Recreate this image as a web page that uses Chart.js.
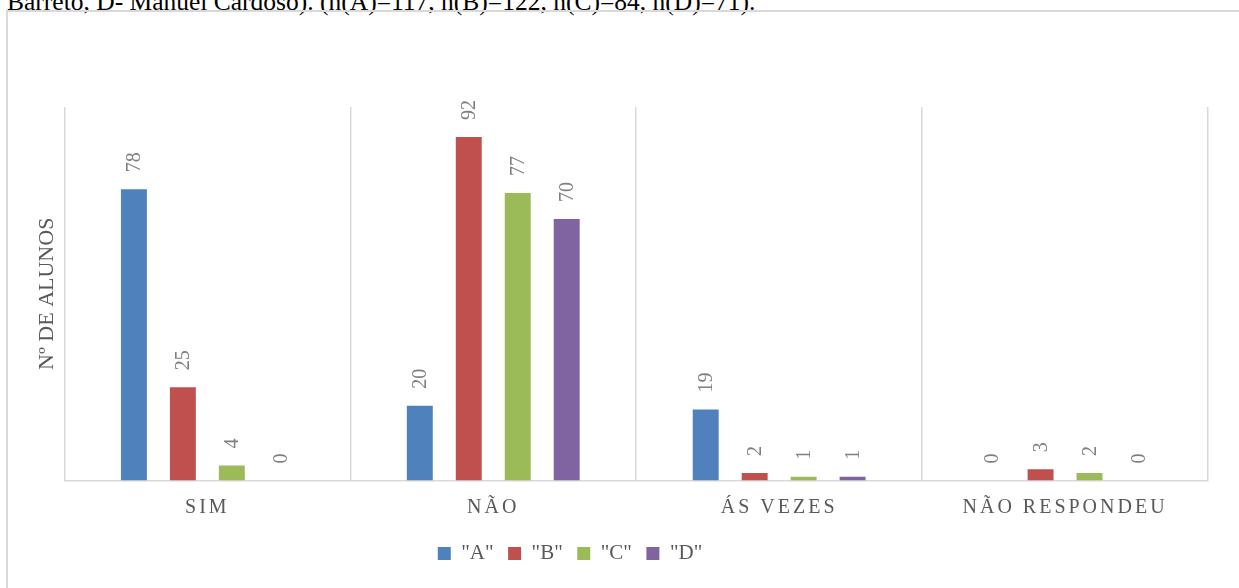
<!DOCTYPE html>
<html>
<head>
<meta charset="utf-8">
<script src="https://cdn.jsdelivr.net/npm/chart.js@4/dist/chart.umd.min.js"></script>
<style>
  body { margin: 0; width: 1239px; height: 588px; overflow: hidden; background: #fff; position: relative; }
  #caption { position: absolute; left: 7px; top: -11px; font: 25.5px "Liberation Serif", serif; line-height: 26px; color: #000; white-space: nowrap; }
  #box { position: absolute; left: 6px; top: 10px; width: 1250px; height: 600px; border: 2px solid #d9d9d9; box-sizing: border-box; }
  #chart { position: absolute; left: 0; top: 0; }
</style>
</head>
<body>
<div id="caption">Barreto, D- Manuel Cardoso). (n(A)=117, n(B)=122, n(C)=84, n(D)=71).</div>
<div id="box"></div>
<canvas id="chart" width="1239" height="588"></canvas>
<script>
const categories = ["SIM", "NÃO", "ÁS VEZES", "NÃO RESPONDEU"];
const seriesNames = ['"A"', '"B"', '"C"', '"D"'];
const valuesA = [78, 20, 19, 0];
const valuesB = [25, 92, 2, 3];
const valuesC = [4, 77, 1, 2];
const valuesD = [0, 70, 1, 0];
const seriesColors = ["#4f81bd", "#c0504d", "#9bbb59", "#8064a2"];

// category axis with letter-spaced labels
class SpacedCategoryScale extends Chart.CategoryScale {
  drawLabels(chartArea) {
    this.ctx.save();
    this.ctx.letterSpacing = "3px";
    super.drawLabels(chartArea);
    this.ctx.restore();
  }
}
SpacedCategoryScale.id = "spacedCategory";
SpacedCategoryScale.defaults = Chart.CategoryScale.defaults;
Chart.register(SpacedCategoryScale);

// rotated value labels above each bar
const valueLabels = {
  id: "valueLabels",
  afterDatasetsDraw(chart) {
    const ctx = chart.ctx;
    ctx.save();
    ctx.letterSpacing = "0px";
    ctx.font = '20px "Liberation Serif"';
    ctx.fillStyle = "#7f7f7f";
    ctx.textAlign = "left";
    ctx.textBaseline = "middle";
    chart.data.datasets.forEach((ds, i) => {
      chart.getDatasetMeta(i).data.forEach((bar, j) => {
        ctx.save();
        ctx.translate(bar.x + 1, bar.y - 17);
        ctx.rotate(-Math.PI / 2);
        ctx.fillText(String(ds.data[j]), 0, 0);
        ctx.restore();
      });
    });
    ctx.restore();
  }
};

// legend sits a bit left of the plot centre, as in the original
const legendShift = {
  id: "legendShift",
  afterLayout(chart) {
    chart.legend.left -= 49;
    chart.legend.right -= 49;
  }
};

const allValues = [valuesA, valuesB, valuesC, valuesD];

const chart = new Chart(document.getElementById("chart"), {
  type: "bar",
  data: {
    labels: categories,
    datasets: seriesNames.map((name, i) => ({
      label: name,
      data: allValues[i],
      backgroundColor: seriesColors[i],
      borderWidth: 0,
      categoryPercentage: 0.685,
      barPercentage: 0.53
    }))
  },
  options: {
    responsive: false,
    animation: false,
    layout: { padding: { left: 30, right: 31, top: 107, bottom: 14 } },
    plugins: {
      tooltip: { enabled: false },
      legend: {
        position: "bottom",
        labels: {
          boxWidth: 13,
          boxHeight: 13,
          padding: 14.5,
          color: "#595959",
          font: { family: "Liberation Serif", size: 21 }
        }
      }
    },
    scales: {
      x: {
        type: "spacedCategory",
        offset: true,
        grid: { offset: true, color: "#d9d9d9", lineWidth: 1.5, drawTicks: false },
        border: { color: "#d9d9d9", width: 1.5 },
        ticks: {
          color: "#595959",
          padding: 15,
          maxRotation: 0,
          autoSkip: false,
          font: { family: "Liberation Serif", size: 20 }
        },
        afterFit(scale) {
          scale.height -= 6;
        }
      },
      y: {
        min: 0,
        max: 100,
        ticks: { display: false },
        grid: { display: false, drawTicks: false },
        border: { display: false },
        title: {
          display: true,
          text: "Nº DE ALUNOS",
          color: "#595959",
          padding: { top: 4, bottom: 4 },
          font: { family: "Liberation Serif", size: 22 }
        }
      }
    }
  },
  plugins: [valueLabels, legendShift]
});
</script>
</body>
</html>
